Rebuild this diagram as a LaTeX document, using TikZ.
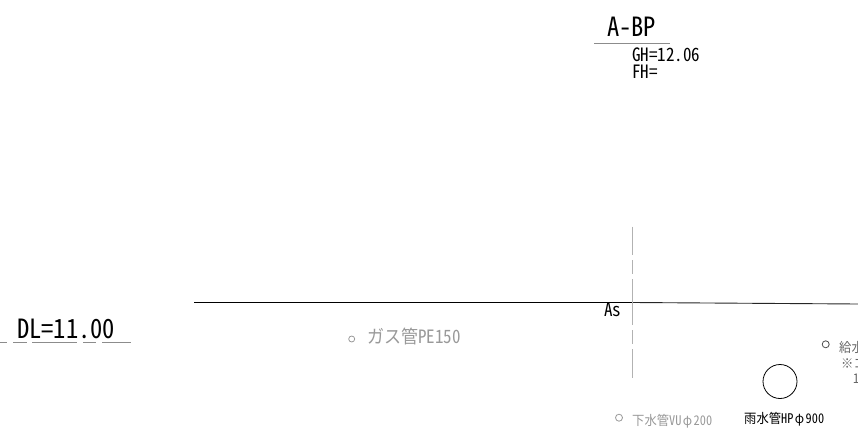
\documentclass[tikz,border=0pt]{standalone}
\usepackage{fontspec}
\setmainfont[RawFeature=+hwid]{Noto Sans CJK JP}
\definecolor{pale}{gray}{0.6}
\definecolor{rulec}{gray}{0.55}
\newcommand{\fwphi}{\makebox[1em][c]{φ}}
\tikzset{
  lbl/.style={inner sep=0pt,anchor=base west,text=black,yscale=1.08},
  palelbl/.style={lbl,text=pale},
  palepipe/.style={draw=pale,line width=0.8pt,circle,inner sep=0pt},
}
\begin{document}
\begin{tikzpicture}[x=1pt,y=-1pt]
\useasboundingbox (0,0) rectangle (858,428);
\clip (0,0) rectangle (858,428);
\node[lbl,font=\fontsize{24.5}{24.5}\selectfont] (title) at (607,37) {A-BP};
\coordinate (tl) at (594,43.8); \coordinate (tr) at (670,43.8);
\draw[rulec,line width=0.8pt] (tl) -- (tr);
\node[lbl,font=\fontsize{17}{17}\selectfont] (gh) at (632,61) {GH=12.06};
\node[lbl,font=\fontsize{17}{17}\selectfont] (fh) at (632,78) {FH=};
\node[lbl,font=\fontsize{24.5}{24.5}\selectfont] (dl) at (17,338.5) {DL=11.00};
\coordinate (dla) at (0,342.3); \coordinate (dlb) at (131,342.3);
\draw[rulec,line width=0.7pt,dash pattern=on 7pt off 6pt on 14pt off 5pt on 45pt off 6pt on 13pt off 6pt on 29pt] (dla) -- (dlb);
\coordinate (ga) at (194,302.5); \coordinate (gb) at (633,302.5); \coordinate (gc) at (858,304);
\draw[black,line width=0.9pt] (ga) -- (gb);
\draw[black!85,line width=0.9pt] (gb) -- (gc);
\coordinate (va) at (632.5,226.7); \coordinate (vb) at (632.5,378);
\draw[gray!60,line width=1pt,dash pattern=on 28.3pt off 5pt on 14pt off 5pt on 46pt off 5pt on 14pt off 5pt on 29pt] (va) -- (vb);
\node[lbl,font=\fontsize{17}{17}\selectfont] (as) at (604,316.7) {As};
\node[palepipe,minimum size=6pt] (gas) at (351.7,339) {};
\node[palelbl,font=\fontsize{17}{17}\selectfont] (gast) at (367,343) {ガス管PE150};
\node[palepipe,minimum size=7pt] (sew) at (619,417.7) {};
\node[palelbl,font=\fontsize{12.3}{12.3}\selectfont] (sewt) at (632,425) {下水管VU\fwphi200};
\node[draw=black,line width=0.8pt,circle,inner sep=0pt,minimum size=34pt] (rain) at (780,381.5) {};
\node[lbl,font=\fontsize{12.3}{12.3}\selectfont] (raint) at (744,423) {雨水管HP\fwphi900};
\node[palepipe,draw=black!70,minimum size=7pt] (wat) at (825.7,344.3) {};
\node[palelbl,text=black!60,font=\fontsize{12.3}{12.3}\selectfont] (watt) at (839,352) {給水};
\node[palelbl,text=black!60,font=\fontsize{12.3}{12.3}\selectfont] (note) at (841,368) {※コ};
\node[palelbl,text=black!60,font=\fontsize{12.3}{12.3}\selectfont] (num) at (853,383.5) {1};
\end{tikzpicture}
\end{document}
